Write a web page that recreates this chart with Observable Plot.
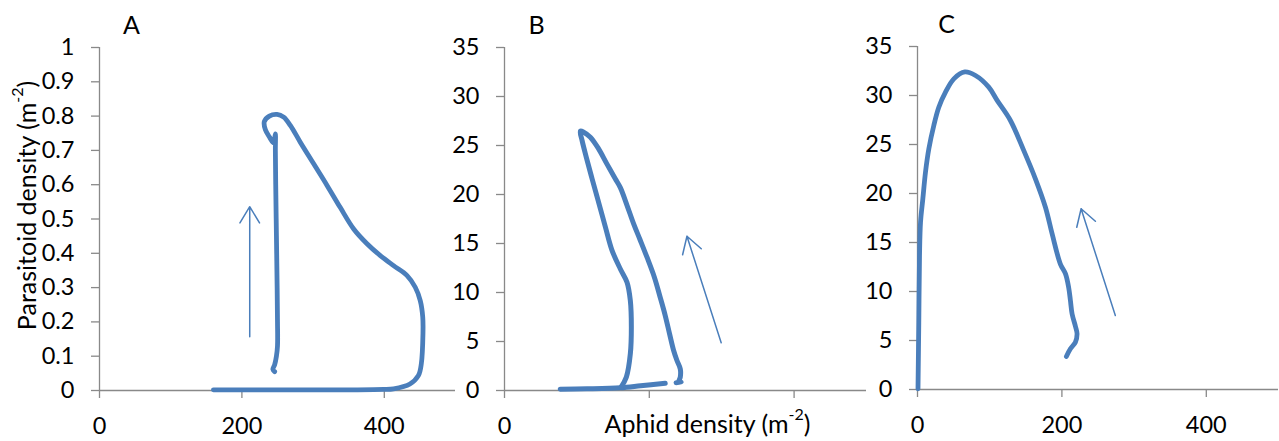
<!DOCTYPE html>
<html>
<head>
<meta charset="utf-8">
<script src="https://cdn.jsdelivr.net/npm/d3@7"></script>
<script src="https://cdn.jsdelivr.net/npm/@observablehq/plot@0.6"></script>
<style>
  html, body { margin: 0; padding: 0; background: #fff; }
  #chart { display: flex; flex-direction: row; width: 1279px; height: 441px; overflow: hidden; }
  #chart svg { overflow: visible; background: transparent; }
</style>
</head>
<body>
<div id="chart"></div>
<script>
// ---------- data ----------
const panelLabels = ["A", "B", "C"];
const yTitle = "Parasitoid density (m-2)";
const xTitle = "Aphid density (m-2)";

// Panel A (aphid density vs parasitoid density)
const aphidA = [160, 250, 350, 399, 413, 436, 448, 452, 454.3, 454, 450.5, 443.5, 432, 413, 394, 375.7, 357, 338, 319.6, 300.8, 282, 268, 258.7, 249.4, 238.5, 231.5, 233, 239, 244.5, 247, 247, 247.5, 248.5, 249.5, 250, 250, 248.5, 246, 243.5, 246];
const parasitoidA = [0.002, 0.002, 0.002, 0.003, 0.005, 0.019, 0.044, 0.078, 0.166, 0.214, 0.262, 0.301, 0.335, 0.364, 0.394, 0.428, 0.471, 0.534, 0.598, 0.661, 0.724, 0.773, 0.797, 0.805, 0.800, 0.784, 0.760, 0.738, 0.722, 0.748, 0.70, 0.60, 0.45, 0.30, 0.20, 0.13, 0.10, 0.075, 0.062, 0.055];

// Panel B (two pieces)
const aphidB = [77, 114, 160, 188, 222,
  237, 244, 241, 242.8, 242.8, 238.2, 233.6, 228, 222, 215, 207, 196.8, 186.7, 178.4, 169.2, 160, 153, 141.6, 130, 118.6, 109.4, 104.8, 107.2, 113, 121, 130, 139.3, 148.5, 160, 169.2, 173.8, 175.2, 173.8, 168.3, 161];
const parasitoidB = [0.14, 0.17, 0.27, 0.48, 0.75,
  0.8, 0.85, 0.95, 1.36, 2.2, 3.06, 4.08, 5.78, 7.65, 9.52, 11.56, 13.6, 15.48, 17.0, 18.9, 20.7, 21.6, 23.1, 24.66, 25.85, 26.36, 26.46, 25.5, 23.8, 21.6, 19.2, 16.7, 14.3, 12.4, 11.05, 9.18, 6.46, 3.74, 1.36, 0.34];
const pieceB = [0, 0, 0, 0, 0,
  1, 1, 1, 1, 1, 1, 1, 1, 1, 1, 1, 1, 1, 1, 1, 1, 1, 1, 1, 1, 1, 1, 1, 1, 1, 1, 1, 1, 1, 1, 1, 1, 1, 1, 1];

// Panel C
const aphidC = [0.7, 1.8, 2.8, 4.2, 7.4, 11.1, 15.7, 22.6, 29.5, 38.8, 50.3, 65.5, 80.3, 98.7, 110.3, 128.7, 147.1, 163.3, 177.2, 186.4, 197.9, 205, 209.4, 211.8, 214.1, 218.7, 221, 218.7, 211.8, 206.2];
const parasitoidC = [0.07, 6.87, 13.67, 17.07, 19.46, 22.2, 24.56, 26.94, 28.8, 30.34, 31.7, 32.4, 32.04, 30.85, 29.5, 27.45, 24.4, 21.5, 18.6, 15.9, 12.8, 11.8, 10.4, 9.08, 7.72, 6.46, 5.68, 4.83, 4.15, 3.37];

// Direction arrows (one per panel): start -> tip
const arrowX1 = [211, 299.3, 274];
const arrowY1 = [0.157, 4.87, 7.55];
const arrowX2 = [211, 252, 226.6];
const arrowY2 = [0.536, 15.74, 18.44];

// Axis ticks
const xTicks = [0, 200, 400];
const yTicksA = [0, 0.1, 0.2, 0.3, 0.4, 0.5, 0.6, 0.7, 0.8, 0.9, 1];
const yTicksBC = [0, 5, 10, 15, 20, 25, 30, 35];
const xDomain = [0, 500];
const yDomainA = [0, 1];
const yDomainBC = [0, 35];

// ---------- drawing ----------
const BLUE = "#4a7ebb";
const GRAY = "#898989";

function rows(xs, ys, zs) {
  return xs.map((x, i) => ({x, y: ys[i], z: zs ? zs[i] : 0}));
}

function supers(svg) {
  d3.select(svg).selectAll("text").each(function () {
    const t = this.textContent;
    const i = t.indexOf("(m-2)");
    if (i < 0) return;
    const el = d3.select(this);
    el.text(null);
    el.append("tspan").text(t.slice(0, i) + "(m");
    el.append("tspan").attr("dy", "-13").attr("font-size", "16").text("-2");
    el.append("tspan").attr("dy", "13").text(")");
  });
}

function panel(k, cfg) {
  const marks = [
    Plot.ruleY([0], {stroke: GRAY, strokeWidth: 1.3}),
    Plot.ruleX([0], {stroke: GRAY, strokeWidth: 1.3}),
    Plot.axisY(cfg.yTicks, {anchor: "left", tickSize: 8, tickPadding: 17, stroke: GRAY, strokeWidth: 1.3, fill: "black", fontSize: 23.5, label: null, tickFormat: d => `${Math.round(d * 10) / 10}`}),
    Plot.axisX(xTicks, {anchor: "bottom", tickSize: 8, tickPadding: 19, stroke: GRAY, strokeWidth: 1.3, fill: "black", fontSize: 23.5, label: null, tickFormat: cfg.xFmt}),
    Plot.line(cfg.data, {x: "x", y: "y", z: "z", stroke: BLUE, strokeWidth: cfg.lw, curve: "catmull-rom", strokeLinecap: "round", strokeLinejoin: "round"}),
    Plot.arrow([k], {x1: d => arrowX1[d], y1: d => arrowY1[d], x2: d => arrowX2[d], y2: d => arrowY2[d], stroke: BLUE, strokeWidth: 1.5, headLength: 19, headAngle: 62}),
    Plot.text([panelLabels[k]], {text: d => d, frameAnchor: "top-left", textAnchor: "middle", lineAnchor: "middle", dx: cfg.labelDx, dy: -22, fontSize: 25})
  ];
  if (cfg.extra) marks.push(...cfg.extra);
  const svg = Plot.plot({
    width: cfg.width,
    height: 441,
    marginLeft: cfg.ml,
    marginRight: cfg.mr,
    marginTop: cfg.mt,
    marginBottom: 441 - cfg.y0,
    style: {fontFamily: "Lato, 'Open Sans', sans-serif", fontSize: "23.5px", background: "transparent", overflow: "visible"},
    x: {domain: xDomain, axis: null},
    y: {domain: cfg.yDomain, axis: null},
    marks
  });
  supers(svg);
  return svg;
}

const root = document.getElementById("chart");

root.appendChild(panel(0, {
  width: 455, ml: 99, mr: 0, mt: 47, y0: 390,
  yDomain: yDomainA, yTicks: yTicksA, xFmt: d => `${d}`, lw: 4.8, labelDx: 32,
  data: rows(aphidA, parasitoidA),
  extra: [Plot.text([yTitle], {text: d => d, frameAnchor: "left", rotate: -90, textAnchor: "middle", lineAnchor: "middle", dx: -72, dy: -13.5, fontSize: 25})]
}));

root.appendChild(panel(1, {
  width: 411, ml: 49, mr: 0, mt: 47, y0: 390,
  yDomain: yDomainBC, yTicks: yTicksBC, xFmt: d => (d === 0 ? "0" : ""), lw: 5, labelDx: 32,
  data: rows(aphidB, parasitoidB, pieceB),
  extra: [Plot.text([xTitle], {text: d => d, frameAnchor: "bottom", textAnchor: "middle", lineAnchor: "middle", dx: 22, dy: 34, fontSize: 25})]
}));

root.appendChild(panel(2, {
  width: 413, ml: 51, mr: 1, mt: 46, y0: 389,
  yDomain: yDomainBC, yTicks: yTicksBC, xFmt: d => `${d}`, lw: 4.8, labelDx: 29,
  data: rows(aphidC, parasitoidC)
}));
</script>
</body>
</html>
